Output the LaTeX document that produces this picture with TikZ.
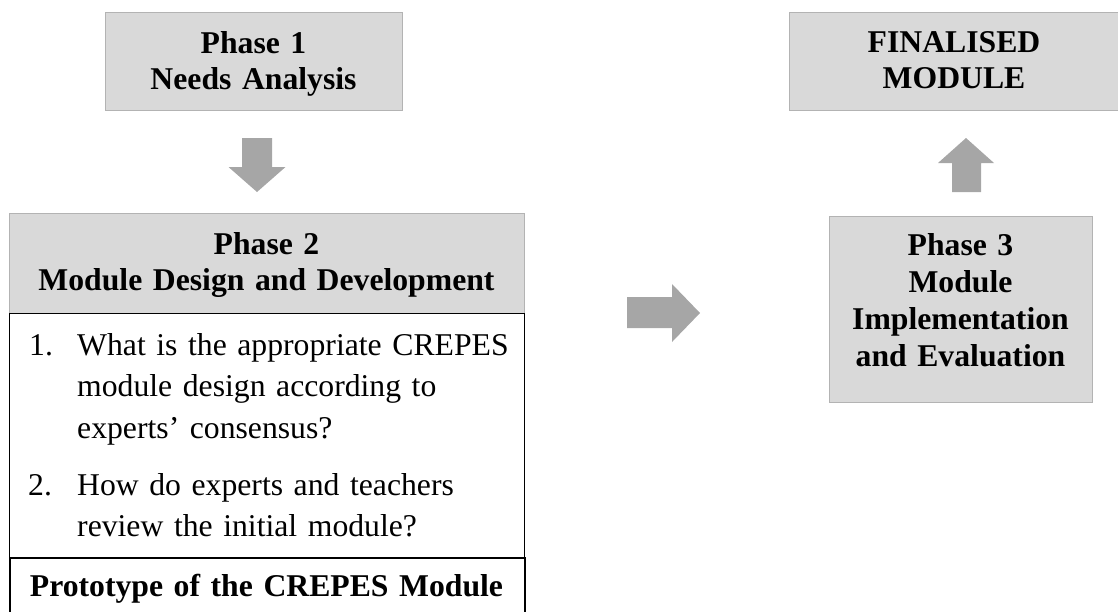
\documentclass[tikz,border=0pt]{standalone}
\usepackage{fontspec}
\setmainfont{Liberation Serif}
\definecolor{boxfill}{HTML}{D9D9D9}
\definecolor{boxedge}{HTML}{B3B3B3}
\definecolor{arrowfill}{HTML}{A6A6A6}
\begin{document}
\begin{tikzpicture}[x=1pt,y=-1pt,
  phasebox/.style={draw=boxedge,fill=boxfill,line width=0.9pt,inner sep=0pt,anchor=north west},
  listbox/.style={draw=black,fill=white,line width=1.2pt,inner sep=0pt,anchor=north west},
  protobox/.style={draw=black,fill=white,line width=2pt,inner sep=0pt,anchor=north west},
  headtext/.style={font=\bfseries\fontsize{31.7}{36.5}\selectfont,align=center,text width=#1,inner sep=0pt,anchor=base},
  bigtext/.style={font=\bfseries\fontsize{31.7}{37.3}\selectfont,align=center,text width=#1,inner sep=0pt,anchor=base},
  itemtext/.style={font=\fontsize{31.7}{41.5}\selectfont,align=left,text width=#1,inner sep=0pt,anchor=base west},
  blockarrow/.style={fill=arrowfill,draw=none}]
\useasboundingbox (0,0) rectangle (1118,611);

% Phase 1 box
\node[phasebox,minimum width=297pt,minimum height=98pt] (p1) at (105,12) {};
\node[headtext=290pt] (p1t) at (253.5,53) {Phase 1\\Needs Analysis};

% Phase 2 heading, question list and prototype box
\node[phasebox,minimum width=515pt,minimum height=100pt] (p2) at (9,213) {};
\node[headtext=505pt] (p2t) at (266.5,254) {Phase 2\\Module Design and Development};
\node[listbox,minimum width=515pt,minimum height=244pt] (qs) at (9,313) {};
\node[protobox,minimum width=515pt,minimum height=80pt] (proto) at (9,557) {};
\node[headtext=505pt] (protot) at (266.5,596) {Prototype of the CREPES Module};

\node[itemtext=40pt] (n1) at (29,355) {1.};
\node[itemtext=440pt] (q1) at (77,355) {What is the appropriate CREPES\\module design according to\\experts’ consensus?};
\node[itemtext=40pt] (n2) at (28,495) {2.};
\node[itemtext=440pt] (q2) at (77,495) {How do experts and teachers\\review the initial module?};

% Phase 3 and the finalised module
\node[phasebox,minimum width=334pt,minimum height=98pt] (fin) at (789,12) {};
\node[headtext=300pt] (fint) at (954,52) {FINALISED\\MODULE};
\node[phasebox,minimum width=263pt,minimum height=186pt] (p3) at (829,216) {};
\node[bigtext=255pt] (p3t) at (960.5,255) {Phase 3\\Module\\Implementation\\and Evaluation};

% block arrows
\coordinate (down) at (257,138);
\fill[blockarrow] (down) ++(-15,0) -- ++(30,0) -- ++(0,29) -- ++(13.5,0)
  -- (257,192) -- ++(-28.5,-25) -- ++(13.5,0) -- cycle;
\coordinate (right) at (627,297);
\fill[blockarrow] (right) -- ++(45,0) -- ++(0,-13) -- (700,313)
  -- ++(-28,29) -- ++(0,-14) -- ++(-45,0) -- cycle;
\coordinate (up) at (952,192);
\fill[blockarrow] (up) -- ++(0,-29) -- ++(-14,0) -- (966,138)
  -- ++(28,25) -- ++(-13,0) -- ++(0,29) -- cycle;
\end{tikzpicture}
\end{document}
